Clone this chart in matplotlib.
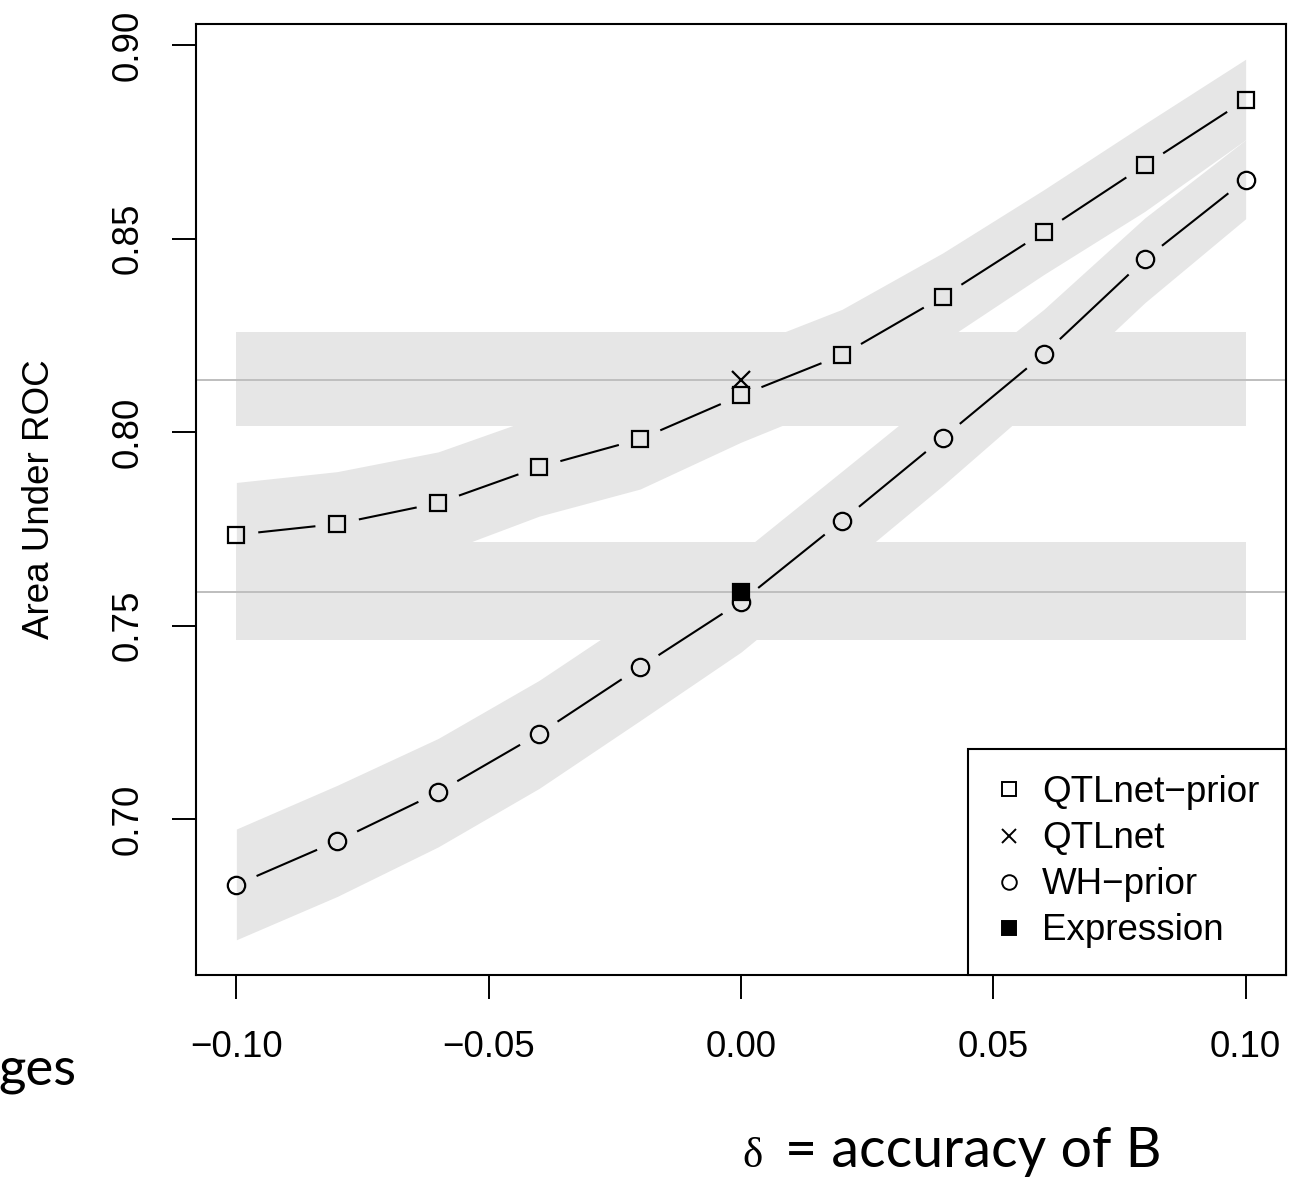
import numpy as np
import matplotlib
matplotlib.use("Agg")
import matplotlib.pyplot as plt
from matplotlib.lines import Line2D

# accuracy of B (delta) grid
delta = [-0.10, -0.08, -0.06, -0.04, -0.02, 0.00, 0.02, 0.04, 0.06, 0.08, 0.10]

# QTLnet-prior AUC and its band
qtlnet_prior = [0.7735, 0.7763, 0.7817, 0.7910, 0.7982, 0.8095, 0.8199, 0.8350, 0.8517, 0.8689, 0.8858]
qtlnet_prior_lo = [0.7600, 0.7630, 0.7685, 0.7783, 0.7853, 0.7974, 0.8080, 0.8234, 0.8407, 0.8570, 0.8755]
qtlnet_prior_hi = [0.7870, 0.7898, 0.7949, 0.8041, 0.8112, 0.8215, 0.8317, 0.8463, 0.8626, 0.8796, 0.8963]

# WH-prior AUC and its band
wh_prior = [0.6831, 0.6944, 0.7070, 0.7221, 0.7393, 0.7562, 0.7771, 0.7985, 0.8201, 0.8446, 0.8652]
wh_prior_lo = [0.6689, 0.6801, 0.6929, 0.7080, 0.7255, 0.7432, 0.7646, 0.7862, 0.8089, 0.8334, 0.8551]
wh_prior_hi = [0.6975, 0.7088, 0.7209, 0.7359, 0.7533, 0.7689, 0.7899, 0.8110, 0.8317, 0.8553, 0.8755]

# methods without prior: one value each, with band
qtlnet_auc = 0.8134
qtlnet_band = [0.8015, 0.8258]
expr_auc = 0.7588
expr_band = [0.7464, 0.7716]

x_ticks = [-0.10, -0.05, 0.00, 0.05, 0.10]
x_tick_labels = ["\u22120.10", "\u22120.05", "0.00", "0.05", "0.10"]
y_ticks = [0.70, 0.75, 0.80, 0.85, 0.90]
y_tick_labels = ["0.70", "0.75", "0.80", "0.85", "0.90"]

legend_labels = ["QTLnet\u2212prior", "QTLnet", "WH\u2212prior", "Expression"]

BAND = "#E6E6E6"
W, H = 1301, 1178

plt.rcParams['font.family'] = ['Liberation Sans', 'DejaVu Sans']

fig = plt.figure(figsize=(W / 100, H / 100), dpi=100)
ax = fig.add_axes([196 / W, (H - 975) / H, 1090 / W, 951 / H])

# R style 4% padding
xr = max(delta) - min(delta)
ax.set_xlim(min(delta) - 0.04 * xr, max(delta) + 0.04 * xr)
ylo, yhi = min(wh_prior_lo), max(qtlnet_prior_hi)
yr = yhi - ylo
ax.set_ylim(ylo - 0.04 * yr, yhi + 0.04 * yr)

# bands
ax.fill_between(delta, qtlnet_prior_lo, qtlnet_prior_hi, color=BAND, lw=0, zorder=1)
ax.fill_between(delta, wh_prior_lo, wh_prior_hi, color=BAND, lw=0, zorder=1)
ends = [delta[0], delta[-1]]
ax.fill_between(ends, [qtlnet_band[0]] * 2, [qtlnet_band[1]] * 2, color=BAND, lw=0, zorder=1)
ax.fill_between(ends, [expr_band[0]] * 2, [expr_band[1]] * 2, color=BAND, lw=0, zorder=1)
ax.axhline(qtlnet_auc, color="#BEBEBE", lw=1.4, zorder=2)
ax.axhline(expr_auc, color="#BEBEBE", lw=1.4, zorder=2)


def gapped_line(x, y, gap=22):
    # lines that stop short of the points, like R type="b"
    pts = ax.transData.transform(np.column_stack([x, y]))
    inv = ax.transData.inverted()
    for p0, p1 in zip(pts[:-1], pts[1:]):
        d = p1 - p0
        L = np.hypot(d[0], d[1])
        if L <= 2 * gap:
            continue
        u = d / L
        seg = inv.transform(np.vstack([p0 + u * gap, p1 - u * gap]))
        ax.plot(seg[:, 0], seg[:, 1], color="black", lw=1.5,
                solid_capstyle="butt", zorder=3)


gapped_line(delta, qtlnet_prior)
gapped_line(delta, wh_prior)
ax.plot(delta, qtlnet_prior, ls="none", marker="s", ms=11, mfc="none",
        mec="black", mew=1.6, zorder=4)
ax.plot(delta, wh_prior, ls="none", marker="o", ms=12.5, mfc="none",
        mec="black", mew=1.6, zorder=4)
ax.plot([0.0], [expr_auc], ls="none", marker="s", ms=11, mfc="black",
        mec="black", mew=1.6, zorder=5)
ax.plot([0.0], [qtlnet_auc], ls="none", marker="x", ms=13, mec="black",
        mew=1.6, zorder=5)

# axes styling
for s in ax.spines.values():
    s.set_linewidth(1.5)
    s.set_color("black")
ax.set_xticks(x_ticks)
ax.set_xticklabels(x_tick_labels)
ax.set_yticks(y_ticks)
ax.set_yticklabels(y_tick_labels)
ax.tick_params(axis="both", direction="out", length=17.5, width=1.4,
               labelsize=26.5, color="black")
ax.tick_params(axis="x", pad=22)
ax.tick_params(axis="y", pad=19, labelrotation=90)
for lab in ax.get_yticklabels():
    lab.set_va("center")

fig.text(40 / W, 1 - 499.5 / H, "Area Under ROC", rotation=90,
         ha="center", va="center", fontsize=26.5)

handles = [
    Line2D([], [], ls="none", marker="s", ms=9.5, mfc="none", mec="black", mew=1.4),
    Line2D([], [], ls="none", marker="x", ms=10, mec="black", mew=1.4),
    Line2D([], [], ls="none", marker="o", ms=10.5, mfc="none", mec="black", mew=1.4),
    Line2D([], [], ls="none", marker="s", ms=10.5, mfc="black", mec="black", mew=1.4),
]
leg = ax.legend(handles, legend_labels, loc="lower right", borderaxespad=0,
                fontsize=26.5, frameon=True, fancybox=False, framealpha=1,
                edgecolor="black", handlelength=0.8, handletextpad=0.5,
                borderpad=0.72, labelspacing=0.3)
leg.get_frame().set_linewidth(1.5)
leg.set_zorder(10)

# slide overlay text
fig.text(742 / W, 1 - 1167 / H, "\u03b4", fontsize=31,
         family=["Liberation Serif", "DejaVu Serif"], ha="left", va="baseline")
fig.text(785 / W, 1 - 1167 / H, "= accuracy of B", fontsize=40,
         family=["Lato", "DejaVu Sans"], ha="left", va="baseline")
fig.text(-2 / W, 1 - 1085 / H, "ges", fontsize=38,
         family=["Lato", "DejaVu Sans"], ha="left", va="baseline")

fig.savefig("out.png", dpi=100)
